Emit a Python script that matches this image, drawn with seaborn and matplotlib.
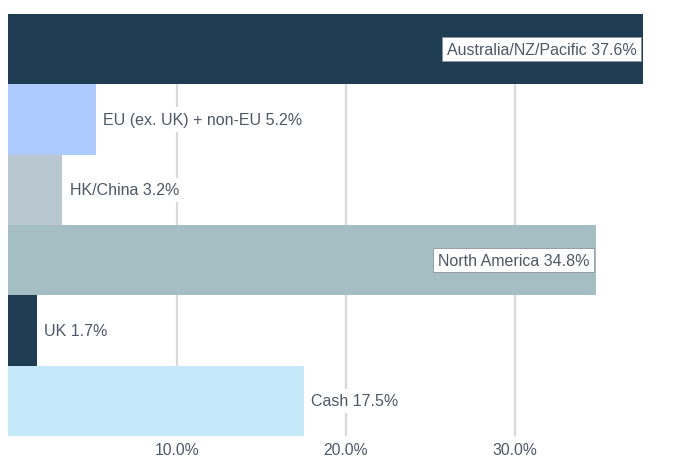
import matplotlib
matplotlib.use("Agg")
import matplotlib.pyplot as plt
import seaborn as sns
import pandas as pd

# regions and weights (%), top to bottom
regions = ["Australia/NZ/Pacific", "EU (ex. UK) + non-EU", "HK/China",
           "North America", "UK", "Cash"]
weights = [37.6, 5.2, 3.2, 34.8, 1.7, 17.5]
bar_colors = ["#1f3d52", "#aecbff", "#b9c7d0", "#a5bec3", "#1f3d52", "#c5e9f8"]
x_ticks = [10, 20, 30]
x_tick_labels = ["10.0%", "20.0%", "30.0%"]

df = pd.DataFrame({"region": regions, "weight": weights})

sns.set_style("white")
plt.rcParams["font.family"] = ["Liberation Sans", "DejaVu Sans"]

fig = plt.figure(figsize=(6.73, 4.60), dpi=100)
ax = fig.add_axes([8 / 673, 23 / 460, 652 / 673, 422 / 460])

sns.barplot(data=df, x="weight", y="region", hue="region", palette=bar_colors,
            orient="h", width=1.0, legend=False, linewidth=0, saturation=1, ax=ax)

ax.set_xlim(0, 38.6)
ax.set_ylim(len(regions) - 0.5, -0.5)
ax.set_axisbelow(True)
ax.xaxis.grid(True, color="#d9d9d9", linewidth=1.6)
ax.yaxis.grid(False)
ax.set_xticks(x_ticks)
ax.set_xticklabels(x_tick_labels)
ax.set_yticks([])
ax.set_xlabel("")
ax.set_ylabel("")
ax.tick_params(axis="x", length=0, labelsize=11.3, labelcolor="#4d5866", pad=4)
sns.despine(ax=ax, left=True, bottom=True)

text_color = "#4d5866"
for i, (name, val) in enumerate(zip(regions, weights)):
    label = f"{name} {val}%"
    if val > 30:
        ax.text(val - 0.4, i, label, ha="right", va="center", fontsize=11.5,
                color=text_color, zorder=5,
                bbox=dict(boxstyle="square,pad=0.3", facecolor="white",
                          edgecolor="#8a96a0", linewidth=0.6))
    else:
        ax.text(val + 0.45, i, label, ha="left", va="center", fontsize=11.5,
                color=text_color, zorder=5,
                bbox=dict(boxstyle="square,pad=0.3", facecolor="white",
                          edgecolor="none"))

fig.savefig("out.png", dpi=100)
